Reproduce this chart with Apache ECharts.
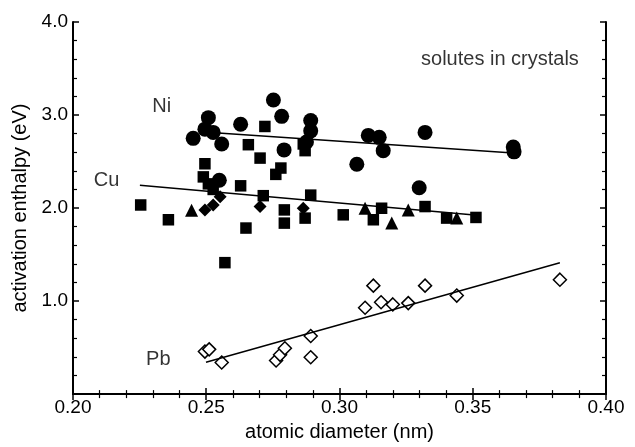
<!DOCTYPE html>
<html><head><meta charset="utf-8">
<script src="https://cdn.jsdelivr.net/npm/echarts@6/dist/echarts.min.js"></script>
<style>html,body{margin:0;padding:0;background:#fff}#c{width:635px;height:447px}</style>
</head><body><div id="c"></div>
<script>
// Ni (filled circles)
const niCircles = [
  [0.2451,2.749],[0.2508,2.972],[0.2495,2.848],[0.2526,2.813],[0.2558,2.689],
  [0.2629,2.901],[0.2752,3.161],[0.2783,2.986],[0.2792,2.625],[0.2892,2.941],
  [0.2892,2.830],[0.2876,2.710],[0.3065,2.471],[0.3108,2.781],[0.3149,2.760],
  [0.3164,2.617],[0.3321,2.813],[0.3299,2.218],[0.3652,2.657],[0.3655,2.604],
  [0.2549,2.299]
];
// Cu (filled squares, triangles, diamonds)
const cuSquares = [
  [0.2254,2.033],[0.2358,1.874],[0.2570,1.413],[0.2649,1.785],[0.2793,1.838],
  [0.2793,1.980],[0.2629,2.239],[0.2702,2.537],[0.2658,2.681],[0.2720,2.877],
  [0.2780,2.430],[0.2761,2.362],[0.2864,2.689],[0.2871,2.617],[0.2892,2.139],
  [0.2871,1.892],[0.3014,1.927],[0.2714,2.133],[0.3158,1.998],[0.3127,1.874],
  [0.3321,2.016],[0.3402,1.892],[0.3512,1.899],[0.2489,2.335],[0.2508,2.260],
  [0.2526,2.200],[0.2495,2.476]
];
const cuTriangles = [
  [0.2445,1.977],[0.3096,1.998],[0.3196,1.838],[0.3258,1.980],[0.3440,1.892]
];
const cuDiamonds = [
  [0.2495,1.980],[0.2526,2.033],[0.2552,2.122],[0.2702,2.016],[0.2864,1.998]
];
// Pb (open diamonds)
const pbDiamonds = [
  [0.2495,0.457],[0.2511,0.481],[0.2558,0.340],[0.2762,0.361],[0.2777,0.422],
  [0.2795,0.492],[0.2892,0.624],[0.2892,0.396],[0.3096,0.928],[0.3127,1.166],
  [0.3156,0.988],[0.3200,0.964],[0.3258,0.978],[0.3321,1.166],[0.3440,1.059],
  [0.3827,1.230]
];
// fitted lines (end points)
const niFit = [[0.2545,2.806],[0.3652,2.593]];
const cuFit = [[0.2251,2.246],[0.3527,1.920]];
const pbFit = [[0.2499,0.343],[0.3827,1.413]];
// text annotations
const annotations = [
  {text:'Ni', x:0.2333, y:3.096},
  {text:'Cu', x:0.2126, y:2.299},
  {text:'Pb', x:0.2320, y:0.369},
  {text:'solutes in crystals', x:0.3602, y:3.592}
];
const xTicks = {min:0.20, max:0.40, interval:0.05};
const yTicks = {min:0, max:4, interval:1};
const xTitle = 'atomic diameter (nm)';
const yTitle = 'activation enthalpy (eV)';

const FONT = 'Liberation Sans';
const FS_TICK = 19;
const FS = 20;
const axisLine = {show:true, lineStyle:{color:'#000', width:2}};
const tick = {show:true, inside:true, length:6, lineStyle:{color:'#000', width:1.5}};
const minor = {show:true, splitNumber:5, length:4, lineStyle:{color:'#000', width:1.2}};

function xAx(pos, labels){
  return {type:'value', position:pos, min:xTicks.min, max:xTicks.max, interval:xTicks.interval,
    axisLine, axisTick:tick, minorTick:minor, splitLine:{show:false}, minorSplitLine:{show:false},
    axisLabel:{show:labels, color:'#000', fontFamily:FONT, fontSize:FS_TICK, margin:4, formatter:v=>v.toFixed(2)},
    name: labels?xTitle:'', nameLocation:'middle', nameGap:25,
    nameTextStyle:{color:'#000', fontFamily:FONT, fontSize:FS}};
}
function yAx(pos, labels){
  return {type:'value', position:pos, min:yTicks.min, max:yTicks.max, interval:yTicks.interval,
    axisLine, axisTick:tick, minorTick:minor, splitLine:{show:false}, minorSplitLine:{show:false},
    axisLabel:{show:labels, color:'#000', fontFamily:FONT, fontSize:FS_TICK, margin:5, formatter:v=>v===0?'':v.toFixed(1)},
    name: labels?yTitle:'', nameLocation:'middle', nameGap:40,
    nameTextStyle:{color:'#000', fontFamily:FONT, fontSize:FS}};
}
function fitLine(d){
  return {type:'line', data:d, showSymbol:false, symbol:'none', lineStyle:{color:'#000', width:1.5}, z:3, silent:true};
}
const chart = echarts.init(document.getElementById('c'));
chart.setOption({
  animation:false,
  grid:{left:73, right:29, top:22, bottom:49, containLabel:false},
  xAxis:[xAx('bottom', true), xAx('top', false)],
  yAxis:[yAx('left', true), yAx('right', false)],
  series:[
    fitLine(niFit), fitLine(cuFit), fitLine(pbFit),
    {type:'scatter', data:niCircles, symbol:'circle', symbolSize:15, itemStyle:{color:'#000', opacity:1}},
    {type:'scatter', data:cuSquares, symbol:'rect', symbolSize:11.5, itemStyle:{color:'#000', opacity:1}},
    {type:'scatter', data:cuTriangles, symbol:'triangle', symbolSize:13, itemStyle:{color:'#000', opacity:1}},
    {type:'scatter', data:cuDiamonds, symbol:'diamond', symbolSize:13, itemStyle:{color:'#000', opacity:1}},
    {type:'scatter', data:pbDiamonds, symbol:'diamond', symbolSize:13, itemStyle:{color:'#fff', borderColor:'#000', borderWidth:1.5, opacity:1}},
    {type:'scatter', data:annotations.map(a=>({value:[a.x,a.y], name:a.text})), symbolSize:0, silent:true,
      label:{show:true, position:'inside', formatter:p=>p.name, color:'#000', fontFamily:FONT, fontSize:FS}}
  ]
});
</script></body></html>
